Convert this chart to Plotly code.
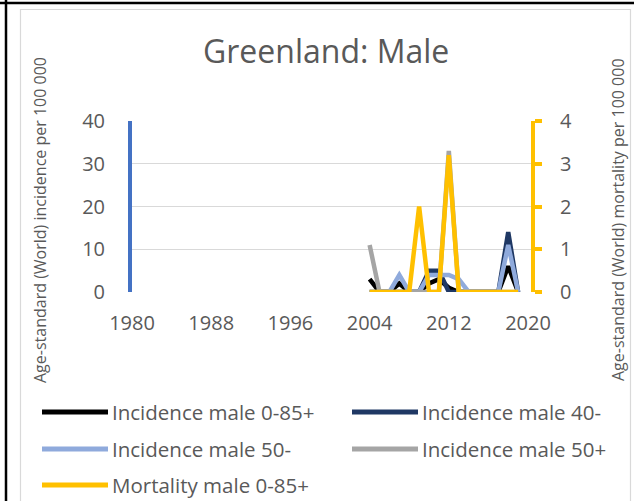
import plotly.graph_objects as go

years = list(range(2004, 2020))
inc_0_85 = [3, 0, 0, 2, 0, 0, 2, 3, 1, 0, 0, 0, 0, 0, 6, 0]
inc_40m  = [0, 0, 0, 0, 0, 0, 5, 5, 0, 0, 0, 0, 0, 0, 14, 0]
inc_50m  = [0, 0, 0, 4, 0, 0, 4, 4, 4, 3, 0, 0, 0, 0, 11, 0]
inc_50p  = [11, 0, 0, 0, 0, 0, 0, 0, 33, 0, 0, 0, 0, 0, 0, 0]
mort_0_85 = [0, 0, 0, 0, 0, 2, 0, 0, 3.2, 0, 0, 0, 0, 0, 0, 0]

x_ticks = [1980, 1988, 1996, 2004, 2012, 2020]
y_ticks = [0, 10, 20, 30, 40]
y2_ticks = [0, 1, 2, 3, 4]

names = ["Incidence male 0-85+", "Incidence male 40-", "Incidence male 50-",
         "Incidence male 50+", "Mortality male 0-85+"]
colors = ["#000000", "#1F3864", "#8FAADC", "#A5A5A5", "#FFC000"]

W, H = 634, 501
L, R, T, B = 132, 531, 121, 292
def px(x):
    return (x - L) / (R - L)
def py(y):
    return (B - y) / (B - T)

TXT = "#595959"
FONT = "Open Sans"

fig = go.Figure()
series = [inc_0_85, inc_40m, inc_50m, inc_50p]
for s, n, c in zip(series, names[:4], colors[:4]):
    fig.add_trace(go.Scatter(x=years, y=s, name=n, mode="lines",
                             line=dict(color=c, width=4.5), showlegend=False))
fig.add_trace(go.Scatter(x=years, y=mort_0_85, name=names[4], mode="lines",
                         line=dict(color=colors[4], width=4.5), yaxis="y2",
                         showlegend=False))

fig.update_layout(
    width=W, height=H,
    margin=dict(l=L, r=W - R, t=T, b=H - B, pad=0),
    paper_bgcolor="white", plot_bgcolor="white",
    font=dict(family=FONT, color=TXT),
    xaxis=dict(range=[1980, 2020.3], tickvals=x_ticks, showgrid=False,
               zeroline=False, showline=False, ticks="",
               tickfont=dict(size=20, color=TXT), ticklabelstandoff=17),
    yaxis=dict(range=[0, 40], tickvals=y_ticks, showgrid=True,
               gridcolor="#D9D9D9", gridwidth=1.3, zeroline=False,
               showline=True, linecolor="#4472C4", linewidth=4,
               ticks="", tickfont=dict(size=20, color=TXT),
               ticklabelstandoff=19),
    yaxis2=dict(range=[0, 4], tickvals=y2_ticks, overlaying="y", side="right",
                showgrid=False, zeroline=False, showline=True,
                linecolor="#FFC000", linewidth=4, ticks="outside",
                ticklen=7, tickwidth=4, tickcolor="#FFC000",
                tickfont=dict(size=20, color=TXT), ticklabelstandoff=14),
)

shapes = []
# outer frame lines (table cell border) and chart border
shapes.append(dict(type="line", xref="paper", yref="paper",
                   x0=px(0), x1=px(W), y0=py(3), y1=py(3),
                   line=dict(color="black", width=2.5)))
shapes.append(dict(type="line", xref="paper", yref="paper",
                   x0=px(6), x1=px(6), y0=py(0), y1=py(H),
                   line=dict(color="black", width=2.5)))
shapes.append(dict(type="rect", xref="paper", yref="paper",
                   x0=px(20.5), x1=px(630.5), y0=py(9.5), y1=py(H + 5),
                   line=dict(color="#D9D9D9", width=1.2)))

annotations = []
annotations.append(dict(text="Greenland: Male", xref="paper", yref="paper",
                        x=px(326), y=py(50), showarrow=False,
                        xanchor="center", yanchor="middle",
                        font=dict(size=32, color=TXT, family=FONT)))
annotations.append(dict(text="Age-standard (World) incidence per 100 000",
                        xref="paper", yref="paper", x=px(40), y=py(220),
                        textangle=-90, showarrow=False,
                        xanchor="center", yanchor="middle",
                        font=dict(size=16, color=TXT, family=FONT)))
annotations.append(dict(text="Age-standard (World) mortality per 100 000",
                        xref="paper", yref="paper", x=px(618), y=py(220),
                        textangle=-90, showarrow=False,
                        xanchor="center", yanchor="middle",
                        font=dict(size=16, color=TXT, family=FONT)))

# legend (manual, matching two-column layout)
leg_pos = [(42, 412), (352, 412), (42, 449), (352, 449), (42, 485)]
for (lx, ly), n, c in zip(leg_pos, names, colors):
    shapes.append(dict(type="line", xref="paper", yref="paper",
                       x0=px(lx), x1=px(lx + 66), y0=py(ly), y1=py(ly),
                       line=dict(color=c, width=5)))
    annotations.append(dict(text=n, xref="paper", yref="paper",
                            x=px(lx + 68), y=py(ly), showarrow=False,
                            xanchor="left", yanchor="middle",
                            font=dict(size=20.5, color=TXT, family=FONT)))

fig.update_layout(shapes=shapes, annotations=annotations)
fig.write_html("out.html", config={"displayModeBar": False},
               post_script="document.body.style.margin='0';")
